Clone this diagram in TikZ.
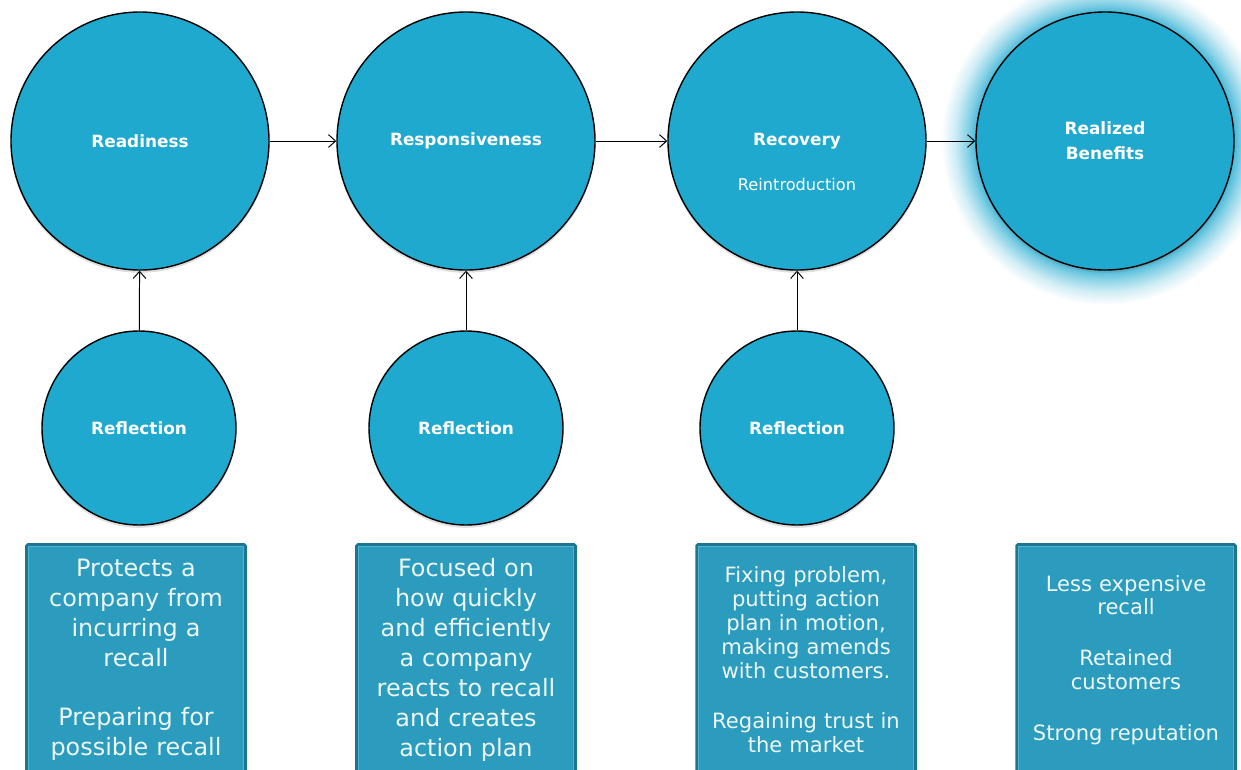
\documentclass[tikz,border=0pt]{standalone}
\usepackage{fontspec}
\setmainfont{DejaVu Sans}
\usepackage{tikz}
\usetikzlibrary{arrows,arrows.meta,shapes,shadows,backgrounds,positioning,calc}
\definecolor{circ}{RGB}{31,169,206}
\definecolor{boxfill}{RGB}{44,156,190}
\definecolor{boxedge}{RGB}{28,118,145}
\definecolor{boxline}{RGB}{78,182,208}
\definecolor{glowc}{RGB}{70,184,216}
\definecolor{txt}{RGB}{236,247,246}
\pgfdeclareradialshading{glow}{\pgfpoint{0cm}{0cm}}{color(0bp)=(glowc); color(19.6bp)=(glowc); color(21bp)=(glowc!65!white); color(23bp)=(glowc!25!white); color(25bp)=(white)}
\tikzstyle{big}=[circle, draw=black, line width=1pt, fill=circ, minimum size=6.45cm, text=white, font=\bfseries\fontsize{12}{18}\selectfont, align=center, drop shadow={opacity=0.25,shadow xshift=0pt,shadow yshift=-2pt}]
\tikzstyle{small}=[big, minimum size=4.85cm]
\tikzstyle{sub}=[text=white, font=\fontsize{11.5}{14}\selectfont]
\tikzstyle{note}=[rectangle, draw=boxedge, line width=2.5pt, fill=boxfill, minimum width=5.45cm, minimum height=5.75cm, anchor=north, text width=5.2cm, align=center, text=txt, rounded corners=1pt]

\begin{document}
\begin{tikzpicture}[>={Straight Barb[length=5pt,width=9pt]}]
		\useasboundingbox (0,0) rectangle (31.025,-19.25);
		\node[big] (A)at(3.5,-3.525){Readiness};
		\node[big] (B)at(11.65,-3.525){Responsiveness};
		\node[big] (C)at(19.925,-3.525){Recovery};
		\node[sub, below=0.8cm of C.center] (C2){Reintroduction};
		\node[big] (D)at(27.625,-3.525){Realized\\Benefits};
		\node[small] (E)at(3.475,-10.7){Reflection};
		\node[small] (F)at(11.65,-10.7){Reflection};
		\node[small] (G)at(19.925,-10.7){Reflection};
		\node[note, font=\fontsize{17}{21.3}\selectfont] (P)at(3.4,-13.575){Protects a\\company from\\incurring a\\recall\\[21pt]Preparing for\\possible recall};
		\node[note, font=\fontsize{17}{21.3}\selectfont] (Q)at(11.65,-13.575){Focused on\\how quickly\\and efficiently\\a company\\reacts to recall\\and creates\\action plan};
		\node[note, font=\fontsize{15}{17}\selectfont] (R)at(20.15,-13.575){Fixing problem,\\putting action\\plan in motion,\\making amends\\with customers.\\[19pt]Regaining trust in\\the market};
		\node[note, font=\fontsize{15}{17}\selectfont] (S)at(28.15,-13.575){Less expensive\\recall\\[19pt]Retained\\customers\\[19pt]Strong reputation};

		% glow behind the last circle
		\begin{scope}[on background layer]
		\shade[shading=glow] (D.center) circle (4.1cm);
		\end{scope}
		\foreach \n in {P,Q,R,S}
		\draw[boxline, line width=0.8pt] ([shift={(2.5pt,-2.5pt)}]\n.north west) rectangle ([shift={(-2.5pt,2.5pt)}]\n.south east);

	\draw[->, line width=0.7pt](A)--(B);
	\draw[->, line width=0.7pt](B)--(C);
	\draw[->, line width=0.7pt](C)--(D);
	\draw[->, line width=0.7pt](E)--(A);
	\draw[->, line width=0.7pt](F)--(B);
	\draw[->, line width=0.7pt](G)--(C);
	\end{tikzpicture}
\end{document}
